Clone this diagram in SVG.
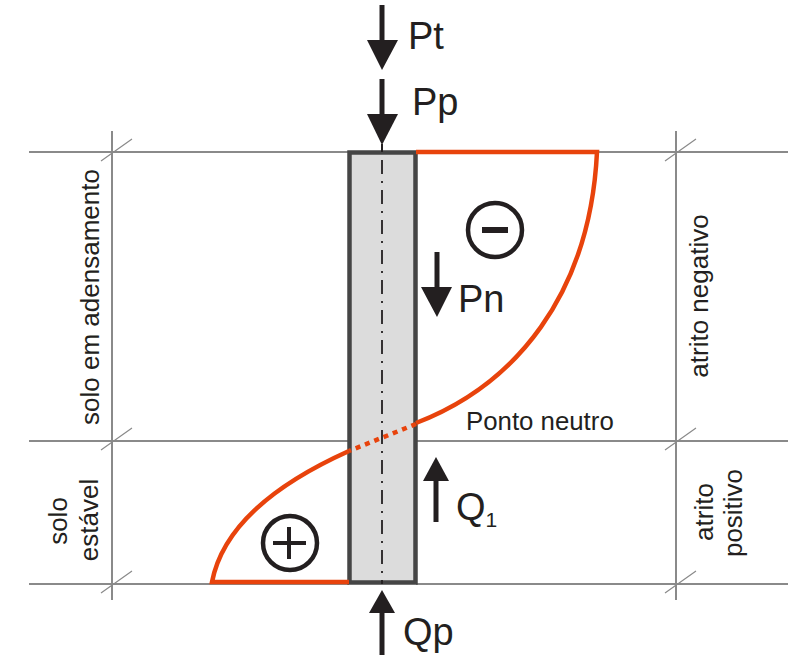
<svg xmlns="http://www.w3.org/2000/svg" width="800" height="660" viewBox="0 0 800 660">
<style>
text{font-family:"Liberation Sans",Arial,sans-serif;fill:#231f20}
.lbl{font-size:38px}
.side{font-size:26px}
.g{stroke:#8a8a8a;stroke-width:2;fill:none}
.t{stroke:#8a8a8a;stroke-width:1.2;fill:none}
.r{stroke:#e8430c;stroke-width:4.500;fill:none}
.a{stroke:#231f20;stroke-width:5;fill:none}
.h{fill:#231f20;stroke:none}
.c{stroke:#231f20;stroke-width:4.500;fill:#fff}
.s{stroke:#231f20;fill:none}
</style>
<rect width="800" height="660" fill="#fff"/>
<g id="dimension-lines">
<path class="g" d="M29 152H349M416 152H788M29 441H349M416 441H788M29 584H349M416 584H788M112 131V600M676 131V600"/>
<path class="t" d="M101 161L132 139M101 450L132 428M101 593L132 571M665 161L696 139M665 450L696 428M665 593L696 571"/>
</g>
<g id="pile">
<rect x="349.500" y="152.500" width="66" height="430" fill="#dcdcdc" stroke="#454545" stroke-width="4.500"/>
<path d="M382 160V584" stroke="#231f20" stroke-width="1.800" stroke-dasharray="14 7 2 7" fill="none"/>
</g>
<g id="connectors">
<path class="a" d="M382 5V42"/><polygon class="h" points="367,40 398,40 382,70"/>
<path class="a" d="M382 79V116"/><polygon class="h" points="367,114 398,114 382,145"/>
<path class="s" stroke-width="2" d="M382 144V152"/>
<path class="a" d="M437 252V289"/><polygon class="h" points="421,287 452,287 437,317"/>
<path class="a" d="M436 479V522"/><polygon class="h" points="423,481 449,481 436,457"/>
<path class="a" d="M382 611V655"/><polygon class="h" points="369,613 395,613 382,590"/>
</g>
<g id="friction-curve">
<path class="r" d="M416 152H597C590 295 515 385 416 423"/>
<path class="r" d="M349 451C300 473 225 515 212 582H349"/>
<path d="M416 424L349 451" stroke="#e8430c" stroke-width="4.500" stroke-dasharray="5 5" fill="none"/>
</g>
<g id="minus"><circle class="c" cx="495" cy="230" r="27"/><path class="s" stroke-width="6" d="M482 230H508"/></g>
<g id="plus"><circle class="c" cx="290" cy="543" r="27"/><path class="s" stroke-width="4" d="M273 543H306M289 527V559"/></g>
<g id="labels">
<text class="lbl" x="408" y="49">Pt</text>
<text class="lbl" x="412" y="115">Pp</text>
<text class="lbl" x="458" y="312">Pn</text>
<text class="lbl" x="456" y="520">Q<tspan font-size="21" dy="7">1</tspan></text>
<text class="lbl" x="403" y="645">Qp</text>
<text x="466" y="430" font-size="25.800">Ponto neutro</text>
<text class="side" text-anchor="middle" transform="translate(99 297) rotate(-90)">solo em adensamento</text>
<text class="side" text-anchor="middle" transform="translate(67 521) rotate(-90)">solo</text>
<text class="side" text-anchor="middle" transform="translate(98 520) rotate(-90)">estável</text>
<text class="side" text-anchor="middle" transform="translate(708 296) rotate(-90)">atrito negativo</text>
<text class="side" text-anchor="middle" transform="translate(713 512) rotate(-90)">atrito</text>
<text class="side" text-anchor="middle" transform="translate(742 513) rotate(-90)">positivo</text>
</g>
</svg>
